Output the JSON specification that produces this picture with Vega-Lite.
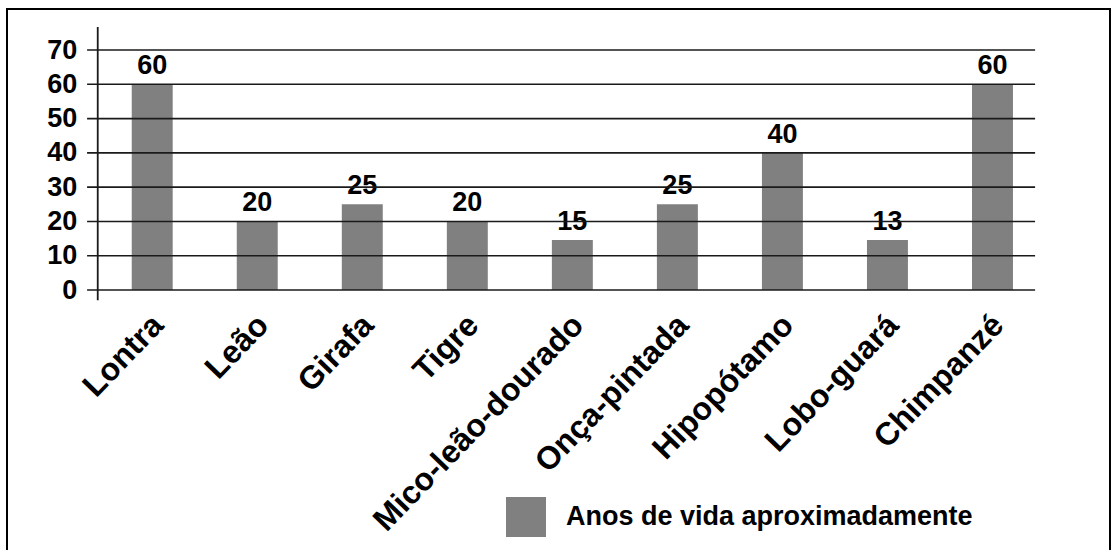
{
  "$schema": "https://vega.github.io/schema/vega-lite/v6.json",
  "width": 1103,
  "height": 543,
  "autosize": {"type": "none"},
  "padding": {"left": 7, "top": 9, "right": 8, "bottom": 0},
  "background": "white",
  "config": {
    "view": {"stroke": "black", "strokeWidth": 2},
    "font": "Liberation Sans"
  },
  "datasets": {
    "animais": [
      {"animal": "Lontra", "anos": 60, "rotulo": "60"},
      {"animal": "Leão", "anos": 20, "rotulo": "20"},
      {"animal": "Girafa", "anos": 25, "rotulo": "25"},
      {"animal": "Tigre", "anos": 20, "rotulo": "20"},
      {"animal": "Mico-leão-dourado", "anos": 14.6, "rotulo": "15"},
      {"animal": "Onça-pintada", "anos": 25, "rotulo": "25"},
      {"animal": "Hipopótamo", "anos": 40, "rotulo": "40"},
      {"animal": "Lobo-guará", "anos": 14.6, "rotulo": "13"},
      {"animal": "Chimpanzé", "anos": 60, "rotulo": "60"}
    ],
    "grade": [
      {"v": 0}, {"v": 10}, {"v": 20}, {"v": 30}, {"v": 40}, {"v": 50}, {"v": 60}, {"v": 70}
    ]
  },
  "layer": [
    {
      "data": {"name": "animais"},
      "mark": {"type": "bar"},
      "encoding": {
        "x": {
          "field": "animal",
          "type": "nominal",
          "sort": null,
          "scale": {
            "domain": ["Lontra", "Leão", "Girafa", "Tigre", "Mico-leão-dourado", "Onça-pintada", "Hipopótamo", "Lobo-guará", "Chimpanzé"],
            "range": [92.7, 1038],
            "paddingInner": 0.61,
            "paddingOuter": 0.305
          },
          "axis": {
            "title": null,
            "orient": "bottom",
            "offset": -262,
            "domain": false,
            "ticks": false,
            "tickSize": 0,
            "labelAngle": -46,
            "labelAlign": "right",
            "labelBaseline": "top",
            "labelPadding": 19,
            "labelOffset": -5,
            "labelLimit": 0,
            "labelFontSize": 32,
            "labelFontWeight": "bold",
            "labelColor": "black",
            "labelFont": "Liberation Sans"
          }
        },
        "y": {
          "field": "anos",
          "type": "quantitative",
          "scale": {"domain": [-76.41, 81.96], "nice": false, "zero": false},
          "axis": {
            "title": null,
            "orient": "left",
            "offset": -90.7,
            "values": [0, 10, 20, 30, 40, 50, 60, 70],
            "domain": false,
            "ticks": false,
            "tickSize": 0,
            "grid": false,
            "labelPadding": 21,
            "labelFontSize": 27,
            "labelFontWeight": "bold",
            "labelColor": "black",
            "labelFont": "Liberation Sans"
          }
        },
        "color": {
          "datum": "Anos de vida aproximadamente",
          "type": "nominal",
          "scale": {"range": ["#808080"]},
          "legend": {
            "title": null,
            "orient": "none",
            "legendX": 499,
            "legendY": 488,
            "padding": 0,
            "symbolType": "square",
            "symbolSize": 1600,
            "symbolStrokeWidth": 0,
            "symbolOpacity": 1,
            "labelOffset": 20,
            "labelLimit": 0,
            "labelFontSize": 27,
            "labelFontWeight": "bold",
            "labelColor": "black",
            "labelFont": "Liberation Sans"
          }
        }
      }
    },
    {
      "data": {"name": "animais"},
      "mark": {"type": "text", "baseline": "alphabetic", "dy": -10, "fontSize": 27, "fontWeight": "bold", "color": "black", "font": "Liberation Sans"},
      "encoding": {
        "x": {"field": "animal", "type": "nominal", "sort": null},
        "y": {"field": "anos", "type": "quantitative"},
        "text": {"field": "rotulo"}
      }
    },
    {
      "data": {"name": "grade"},
      "mark": {"type": "rule", "color": "#1a1a1a", "strokeWidth": 1.6},
      "encoding": {
        "y": {"field": "v", "type": "quantitative"},
        "x": {"datum": "Lontra", "type": "nominal", "bandPosition": -1.09},
        "x2": {"datum": "Chimpanzé", "bandPosition": 1.54}
      }
    },
    {
      "data": {"values": [{}]},
      "mark": {"type": "rule", "color": "#1a1a1a", "strokeWidth": 1.8},
      "encoding": {
        "x": {"datum": "Lontra", "type": "nominal", "bandPosition": -0.83},
        "y": {"datum": -3, "type": "quantitative"},
        "y2": {"datum": 76.7}
      }
    }
  ]
}
